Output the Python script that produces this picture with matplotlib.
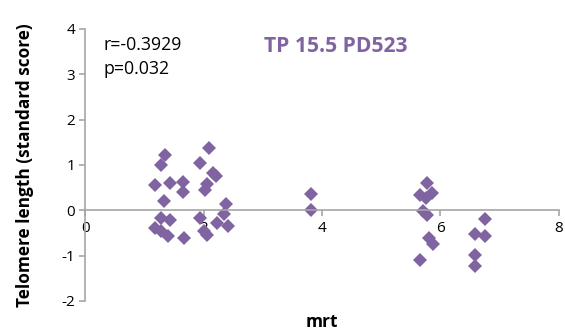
import matplotlib.pyplot as plt

# mrt vs telomere length (standard score)
mrt = [1.34, 1.28, 1.17, 1.43, 1.65, 1.65, 1.32, 1.28, 1.43, 1.17, 1.28, 1.40, 1.67,
       2.09, 1.93, 2.15, 2.20, 2.05, 2.02, 2.38, 2.34, 1.93, 2.22, 2.41, 2.00, 2.05,
       3.81, 3.81,
       5.77, 5.85, 5.65, 5.75, 5.70, 5.78, 5.80, 5.88, 5.65,
       6.75, 6.58, 6.75, 6.58, 6.58]
telomere = [1.23, 1.00, 0.55, 0.60, 0.63, 0.40, 0.20, -0.18, -0.22, -0.38, -0.45, -0.57, -0.62,
            1.38, 1.05, 0.83, 0.75, 0.57, 0.45, 0.14, -0.08, -0.18, -0.28, -0.34, -0.45, -0.55,
            0.35, 0.00,
            0.60, 0.38, 0.33, 0.28, -0.02, -0.10, -0.62, -0.75, -1.09,
            -0.20, -0.52, -0.57, -0.98, -1.22]

xticks = [0, 2, 4, 6, 8]
yticks = [-2, -1, 0, 1, 2, 3, 4]
purple = "#8064A2"
grey = "#A6A6A6"

plt.rcParams["font.family"] = ["Open Sans", "DejaVu Sans"]
plt.rcParams["axes.unicode_minus"] = False

fig = plt.figure(figsize=(5.65, 3.32), dpi=100)
ax = fig.add_axes([0.1513, 0.0934, 0.8377, 0.8193])

ax.plot(mrt, telomere, linestyle="none", marker="D", ms=7.4, color=purple,
        markeredgewidth=0)

ax.set_xlim(0, 8)
ax.set_ylim(-2, 4)
ax.set_xticks(xticks)
ax.set_yticks(yticks)

for side in ["top", "right"]:
    ax.spines[side].set_visible(False)
ax.spines["bottom"].set_position(("data", 0))
ax.spines["left"].set_color(grey)
ax.spines["bottom"].set_color(grey)
ax.spines["left"].set_linewidth(1.2)
ax.spines["bottom"].set_linewidth(1.2)
ax.tick_params(axis="both", colors=grey, labelcolor="black", labelsize=11,
               direction="out", length=4, width=1.2)

ax.set_xlabel("mrt", fontsize=12.5, fontweight="bold")
ax.set_ylabel("Telomere length (standard score)", fontsize=12.4, fontweight="bold")
ax.xaxis.set_label_coords(0.5, -0.045)
ax.yaxis.set_label_coords(-0.108, 0.5)

ax.text(0.3, 3.65, "r=-0.3929", fontsize=12.8, va="center")
ax.text(0.3, 3.12, "p=0.032", fontsize=12.8, va="center")
ax.text(3.02, 3.62, "TP 15.5 PD523", fontsize=15.2, fontweight="bold",
        color=purple, va="center")

fig.savefig("out.png", dpi=100)
